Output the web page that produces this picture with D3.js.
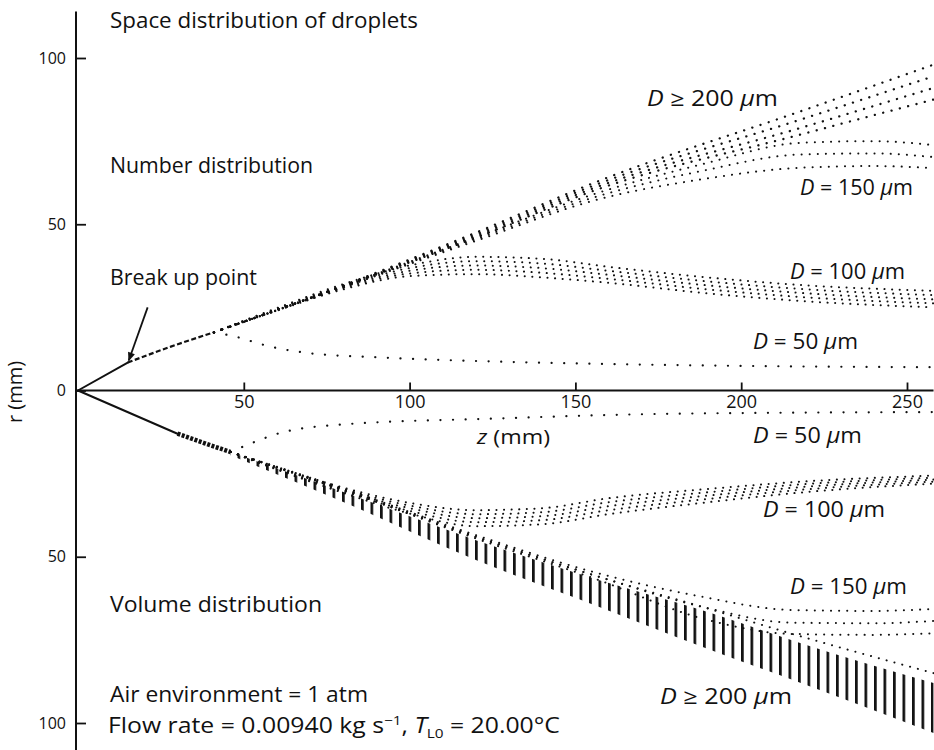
<!DOCTYPE html>
<html><head><meta charset="utf-8">
<script src="https://cdn.jsdelivr.net/npm/d3@7"></script>
<style>
body{margin:0;background:#fff}
svg{display:block;background:#fff}
text{font-family:"Open Sans",sans-serif;fill:#111}
</style>
</head><body>
<svg id="c" width="934" height="750"></svg>
<script>
// ---------------- DATA (z in mm, r in mm) ----------------
const zTicks = [50, 100, 150, 200, 250];
const rTicks = [100, 50, 0, -50, -100];
const rTickLabels = ["100", "50", "0", "50", "100"];
const zAxisEnd = 258;
const rAxisTop = 114;
const rAxisBottom = -108.5;

// liquid sheet before break-up
const sheetUpper = [[0,0],[15,8.4]];
const sheetLower = [[0,0],[30,-13]];
// break-up region
const spineUpper = [[15,8.4],[28,13.2],[41,17.5]];
const spineLower = [[30,-13],[38,-15.8],[46,-18.5]];
const breakUpPoint = [15, 8.4];
const arrowTail = [21, 25];

// Number distribution (upper half)
const up50 = [[41,17.5],[47,16.3],[58,13.2],[70,11.2],[90,10],[130,8.6],[170,7.8],[210,7.3],[258,7]];
const up100a = [[41,17.5],[60,24.8],[80,32],[100,37.6],[120,40.2],[140,39.6],[160,37.2],[190,34],[220,31.6],[258,30]];
const up100b = [[41,17.5],[60,24.6],[80,31.6],[100,36.8],[120,38.9],[140,38.2],[160,36],[190,32.8],[220,30.4],[258,28.7]];
const up100c = [[41,17.5],[60,24.4],[80,31.2],[100,36],[120,37.6],[140,36.8],[160,34.8],[190,31.6],[220,29.2],[258,27.4]];
const up100d = [[41,17.5],[60,24.2],[80,30.8],[100,35.2],[120,36.3],[140,35.4],[160,33.6],[190,30.4],[220,28],[258,26.2]];
const up100e = [[41,17.5],[60,24],[80,30.4],[100,34.4],[120,35],[140,34],[160,32.4],[190,29.2],[220,26.8],[258,25]];
const up150a = [[41,17.5],[80,31.4],[120,46],[157,59.5],[188,68],[218,74.5],[240,75],[258,73.8]];
const up150b = [[41,17.5],[80,31.2],[120,45.5],[157,58.5],[188,66],[218,71],[240,71.3],[258,70.2]];
const up150c = [[41,17.5],[80,31],[120,45],[157,57.5],[188,63.5],[218,67],[240,67.5],[258,66.9]];
const up200a = [[41,17.5],[80,31.6],[120,47.5],[157,63],[218,84],[258,98]];
const up200b = [[41,17.5],[80,31.5],[120,47],[157,62.2],[218,81.5],[258,94.5]];
const up200c = [[41,17.5],[80,31.4],[120,46.5],[157,61.4],[218,79],[258,91]];
const up200d = [[41,17.5],[80,31.3],[120,46],[157,60.6],[218,77],[258,87.5]];

// Volume distribution (lower half)
const lo50 = [[46,-18.5],[50,-16.8],[62,-12.5],[80,-10.2],[127,-8.4],[167,-7.2],[210,-6.7],[258,-6.5]];
const lo100a = [[46,-18.5],[60,-23.8],[80,-30.8],[100,-37],[120,-40.8],[140,-40.2],[160,-37.2],[190,-33.6],[220,-30.5],[258,-28]];
const lo100b = [[46,-18.5],[60,-23.6],[80,-30.4],[100,-36.2],[120,-39.6],[140,-39],[160,-36],[190,-32.6],[220,-29.7],[258,-27.4]];
const lo100c = [[46,-18.5],[60,-23.4],[80,-30],[100,-35.4],[120,-38.4],[140,-37.8],[160,-34.8],[190,-31.6],[220,-28.9],[258,-26.8]];
const lo100d = [[46,-18.5],[60,-23.2],[80,-29.6],[100,-34.6],[120,-37.2],[140,-36.6],[160,-33.6],[190,-30.6],[220,-28.1],[258,-26.2]];
const lo100e = [[46,-18.5],[60,-23],[80,-29.2],[100,-33.8],[120,-36],[140,-35.4],[160,-32.4],[190,-29.6],[220,-27.3],[258,-25.6]];
const lo150a = [[46,-18.5],[80,-29.5],[120,-43.5],[157,-55],[188,-62],[215,-66],[240,-66.3],[258,-65.7]];
const lo150b = [[46,-18.5],[80,-29.7],[120,-44],[157,-56],[188,-65],[215,-69.8],[240,-70],[258,-69.3]];
const lo150c = [[46,-18.5],[80,-29.9],[120,-44.5],[157,-57],[188,-68.5],[215,-73.2],[240,-73.5],[258,-73]];
const lo200top = [[46,-18.5],[80,-30],[120,-44],[157,-56],[188,-65],[213,-72.5],[258,-85]];
const lo200BandZ      = [46, 80, 120, 157, 188, 218, 258];
const lo200BandInner  = [-18.5, -30.5, -45, -57, -66, -76, -88];
const lo200BandOuter  = [-19.5, -33.5, -51, -65, -77, -88, -103];

// ---------------- DRAWING ----------------
const svg = d3.select("#c");
const x = d3.scaleLinear().domain([0, 250]).range([78, 907]);
const y = d3.scaleLinear().domain([-100, 100]).range([723, 58]);
const ink = "#111";

const defs = svg.append("defs");
const pat = defs.append("pattern").attr("id", "bars").attr("patternUnits", "userSpaceOnUse")
  .attr("width", 9.5).attr("height", 20);
pat.append("rect").attr("x", 0).attr("y", 0).attr("width", 2.7).attr("height", 20).attr("fill", ink);
defs.append("marker").attr("id", "ah").attr("viewBox", "0 0 10 10").attr("refX", 9).attr("refY", 5)
  .attr("markerWidth", 10).attr("markerHeight", 9).attr("markerUnits", "userSpaceOnUse").attr("orient", "auto")
  .append("path").attr("d", "M0,1 L10,5 L0,9 Z").attr("fill", ink);

const line = d3.line().x(d => x(d[0])).y(d => y(d[1])).curve(d3.curveMonotoneX);

// lower big-drop band (vertical bars)
const band = lo200BandZ.map((z, i) => ({z, a: lo200BandInner[i], b: lo200BandOuter[i]}));
svg.append("path").datum(band)
  .attr("d", d3.area().x(d => x(d.z)).y0(d => y(d.a)).y1(d => y(d.b)).curve(d3.curveMonotoneX))
  .attr("fill", "url(#bars)");

function drawLine(data, width, dash, cap) {
  svg.append("path").datum(data).attr("d", line)
    .attr("fill", "none").attr("stroke", ink)
    .attr("stroke-width", width)
    .attr("stroke-dasharray", dash)
    .attr("stroke-linecap", cap || "round");
}

// sheets
drawLine(sheetUpper, 2, null, "round");
drawLine(sheetLower, 2, null, "round");
drawLine(spineUpper, 2.2, "5 2.5", "butt");
drawLine(spineLower, 4.5, "3 1.5", "butt");

// upper
drawLine(up50, 2.2, "0.1 12.5");
[up100a, up100b, up100c, up100d, up100e].forEach(d => drawLine(d, 2, "0.1 7.5"));
[up150a, up150b, up150c].forEach(d => drawLine(d, 2, "0.1 8"));
[up200a, up200b, up200c, up200d].forEach(d => drawLine(d, 2.3, "0.1 8.5"));

// lower
drawLine(lo50, 2.2, "0.1 12.5");
[lo100a, lo100b, lo100c, lo100d, lo100e].forEach(d => drawLine(d, 2, "0.1 7.5"));
[lo150a, lo150b, lo150c].forEach(d => drawLine(d, 2, "0.1 8"));
drawLine(lo200top, 2, "0.1 8");

// axes
const xAxis = d3.axisBottom(x).tickValues(zTicks).tickSizeInner(-8).tickSizeOuter(0).tickPadding(5);
const gx = svg.append("g").attr("transform", `translate(0,${y(0)})`).call(xAxis);
gx.select(".domain").remove();
gx.selectAll("line").attr("stroke", ink).attr("stroke-width", 1.8);
gx.selectAll("text").attr("font-size", 18).attr("fill", ink).attr("font-family", '"Open Sans",sans-serif');
svg.append("line").attr("x1", x(0) - 2).attr("x2", x(zAxisEnd)).attr("y1", y(0)).attr("y2", y(0))
  .attr("stroke", ink).attr("stroke-width", 2);

const yAxis = d3.axisLeft(y).tickValues(rTicks).tickFormat((d, i) => rTickLabels[i])
  .tickSizeInner(-10).tickSizeOuter(0).tickPadding(10);
const gy = svg.append("g").attr("transform", `translate(${x(0) - 2},0)`).call(yAxis);
gy.select(".domain").remove();
gy.selectAll("line").attr("stroke", ink).attr("stroke-width", 1.8);
gy.selectAll("text").attr("font-size", 16).attr("fill", "#333").attr("font-family", '"Open Sans",sans-serif');
svg.append("line").attr("x1", x(0) - 2).attr("x2", x(0) - 2).attr("y1", y(rAxisTop)).attr("y2", y(rAxisBottom))
  .attr("stroke", ink).attr("stroke-width", 2);

// arrow to break-up point
svg.append("line").attr("x1", x(arrowTail[0])).attr("y1", y(arrowTail[1]))
  .attr("x2", x(breakUpPoint[0]) + 1).attr("y2", y(breakUpPoint[1]) - 2)
  .attr("stroke", ink).attr("stroke-width", 1.8).attr("marker-end", "url(#ah)");

// axis titles
const zt = svg.append("text").attr("x", 477).attr("y", 444).attr("font-size", 20)
  .attr("textLength", 73).attr("lengthAdjust", "spacingAndGlyphs");
zt.append("tspan").attr("font-style", "italic").text("z");
zt.append("tspan").text(" (mm)");
svg.append("text").attr("transform", "translate(22,392) rotate(-90)").attr("text-anchor", "middle")
  .attr("font-size", 20).text("r (mm)");

// annotations: [text, x, baseline, width]
const notes = [
  ["Space distribution of droplets", 110, 28, 308],
  ["Number distribution", 110, 173, 203],
  ["Break up point", 110, 285, 147],
  ["Volume distribution", 110, 612, 212],
  ["Air environment = 1 atm", 110, 702, 258]
];
notes.forEach(n => svg.append("text").attr("x", n[1]).attr("y", n[2]).attr("font-size", 21)
  .attr("textLength", n[3]).attr("lengthAdjust", "spacingAndGlyphs").text(n[0]));

const fr = svg.append("text").attr("x", 108).attr("y", 733).attr("font-size", 21)
  .attr("textLength", 452).attr("lengthAdjust", "spacingAndGlyphs");
fr.append("tspan").text("Flow rate = 0.00940 kg s");
fr.append("tspan").attr("font-size", 13).attr("dy", -8).text("−1");
fr.append("tspan").attr("dy", 8).text(", ");
fr.append("tspan").attr("font-style", "italic").text("T");
fr.append("tspan").attr("font-size", 13).attr("dy", 5).text("L0");
fr.append("tspan").attr("dy", -5).text(" = 20.00°C");

// D labels: [relation, size, x, baseline, width]
const dLabels = [
  ["≥", "200", 647, 106, 131],
  ["=", "150", 800, 195, 113],
  ["=", "100", 790, 279, 115],
  ["=", "50", 753, 349, 105],
  ["=", "50", 753, 443, 109],
  ["=", "100", 763, 517, 122],
  ["=", "150", 790, 594, 117],
  ["≥", "200", 660, 704, 132]
];
dLabels.forEach(l => {
  const t = svg.append("text").attr("x", l[2]).attr("y", l[3]).attr("font-size", 21)
    .attr("textLength", l[4]).attr("lengthAdjust", "spacingAndGlyphs");
  t.append("tspan").attr("font-style", "italic").text("D");
  t.append("tspan").text(" " + l[0] + " " + l[1] + " ");
  t.append("tspan").attr("font-style", "italic").text("µ");
  t.append("tspan").text("m");
});
</script>
</body></html>
